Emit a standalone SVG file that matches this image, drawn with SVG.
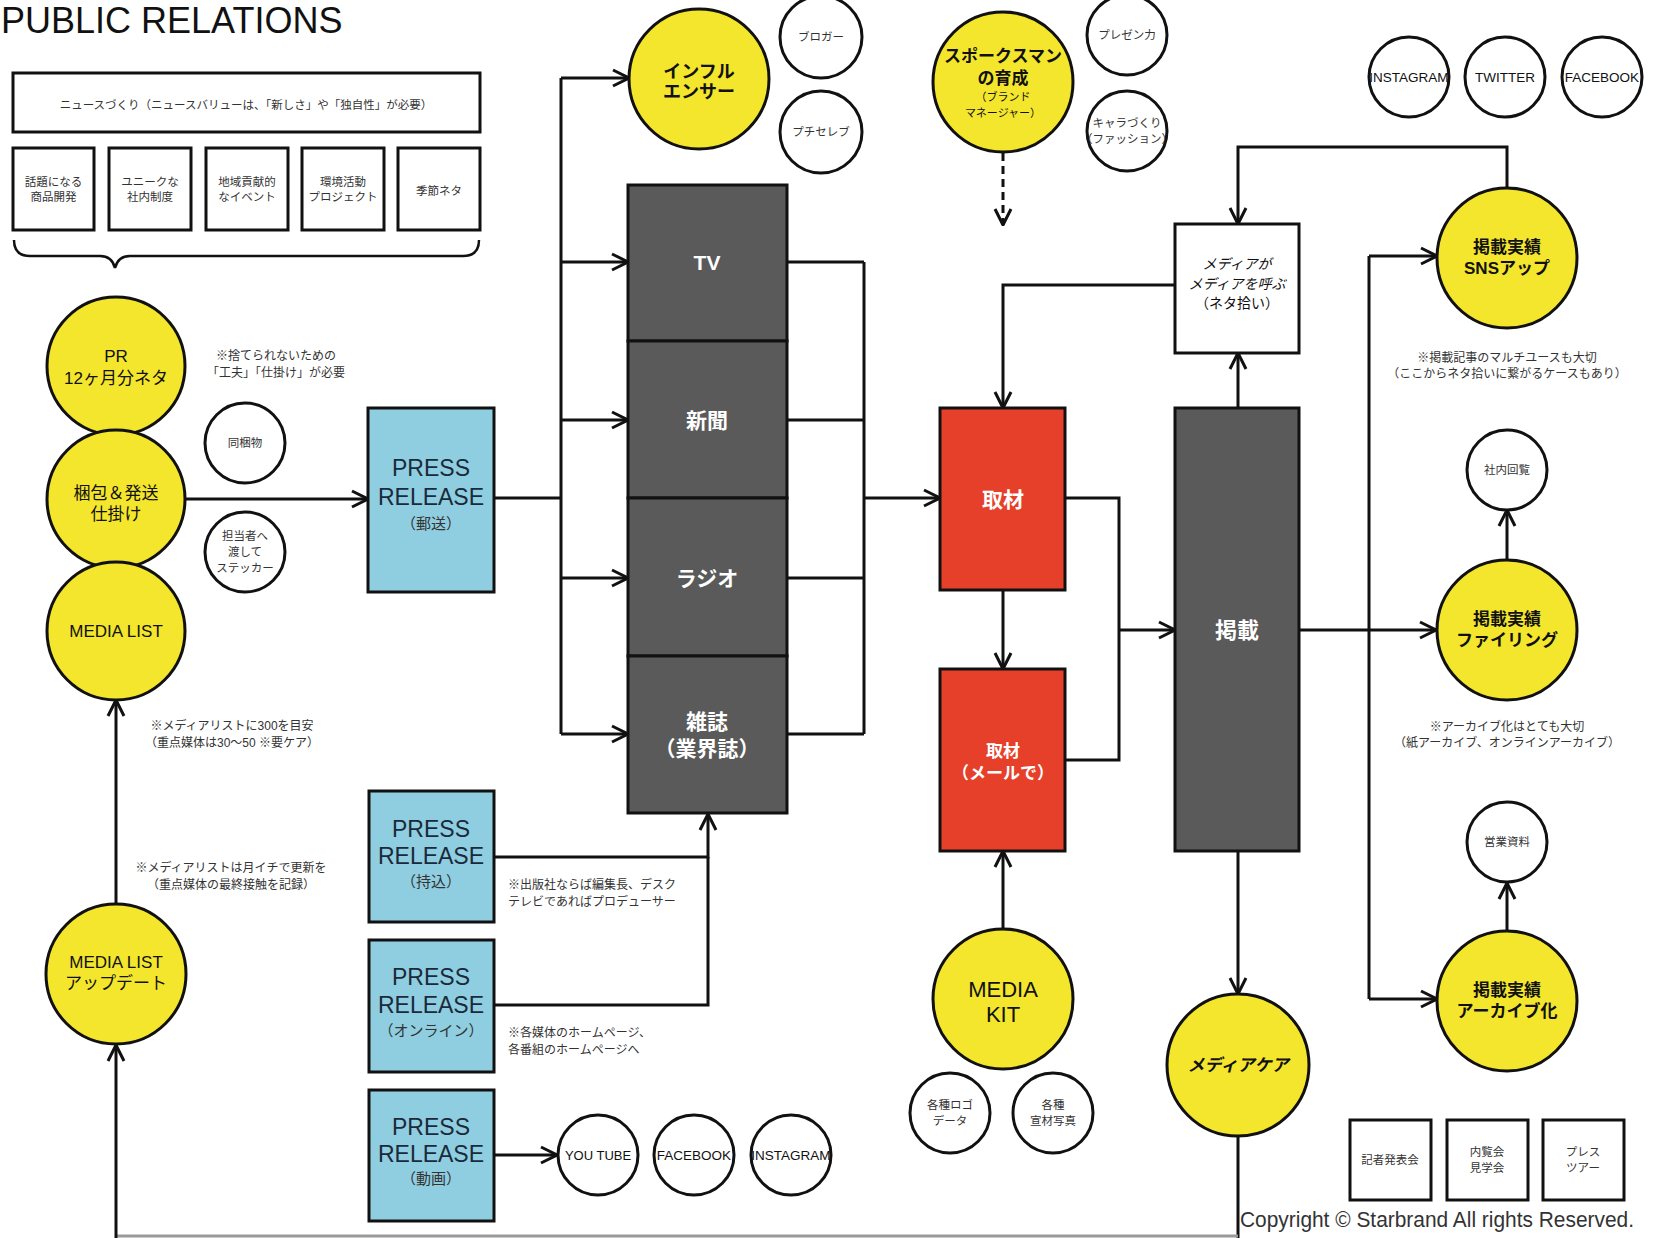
<svg xmlns="http://www.w3.org/2000/svg" width="1656" height="1238" viewBox="0 0 1656 1238">
<style>
text{font-family:'Liberation Sans','Noto Sans CJK JP',sans-serif;text-anchor:middle;fill:#111}
.box{fill:#fff;stroke:#111;stroke-width:3}
.yc{fill:#f4e62c;stroke:#111;stroke-width:3}
.wc{fill:#fff;stroke:#111;stroke-width:3}
.blue{fill:#8fcde0;stroke:#111;stroke-width:3}
.dark{fill:#5a5a5a;stroke:#111;stroke-width:3}
.red{fill:#e6402a;stroke:#111;stroke-width:3}
.sm{font-size:11.5px;fill:#333}
.note{font-size:12px;fill:#333}
.yl{font-size:17px}
.yb{font-size:17px;font-weight:bold}
.pr{font-size:23px;fill:#1a2a3a}
.prs{font-size:15px;fill:#333}
.wl{font-size:21px;font-weight:bold;fill:#fff}
.ln{fill:none;stroke:#111;stroke-width:3}
.ar{fill:none;stroke:#111;stroke-width:3;marker-end:url(#ah)}
</style>
<defs>
<marker id="ah" viewBox="0 0 20 20" refX="19" refY="10" markerWidth="20" markerHeight="20" markerUnits="userSpaceOnUse" orient="auto">
<path d="M3,2 L19,10 L3,18" fill="none" stroke="#111" stroke-width="3"/>
</marker>
</defs>
<rect width="1656" height="1238" fill="#fff"/>
<text x="1" y="33" style="font-size:36px;text-anchor:start">PUBLIC RELATIONS</text>

<g id="connectors">
<path class="ar" d="M185,499 H368"/>
<path class="ln" d="M494,498 H561 M561,78 V734"/>
<path class="ar" d="M561,78 H629"/>
<path class="ar" d="M561,262 H628"/>
<path class="ar" d="M561,420 H628"/>
<path class="ar" d="M561,578 H628"/>
<path class="ar" d="M561,734 H628"/>
<path class="ln" d="M787,262 H864 M787,420 H864 M787,578 H864 M787,734 H864 M864,262 V734"/>
<path class="ar" d="M864,498 H940"/>
<path class="ar" d="M1003,590 V669"/>
<path class="ln" d="M1065,498 H1119 V760 H1065"/>
<path class="ar" d="M1119,630 H1175"/>
<path class="ar" d="M1238,408 V353"/>
<path class="ar" d="M1175,285 H1003 V408"/>
<path class="ar" d="M1507,188 V147 H1238 V224"/>
<path class="ar" d="M1299,630 H1436"/>
<path class="ln" d="M1369,256 V999"/>
<path class="ar" d="M1369,256 H1437"/>
<path class="ar" d="M1369,999 H1437"/>
<path class="ar" d="M1507,560 V510"/>
<path class="ar" d="M1507,931 V883"/>
<path class="ar" d="M1003,929 V851"/>
<path class="ar" d="M1238,851 V994"/>
<path class="ln" d="M1238,1136 V1238"/>
<path d="M1238,1236 H116" fill="none" stroke="#999" stroke-width="3"/>
<path class="ar" d="M116,1238 V1045"/>
<path class="ar" d="M116,904 V700"/>
<path class="ar" d="M494,857 H708 V814"/>
<path class="ln" d="M494,1005 H708 V857"/>
<path class="ar" d="M494,1155 H557"/>
<path class="ar" d="M1003,153 V225" stroke-dasharray="8 5"/>
<path class="ln" d="M14,240 Q14,256 30,256 H100 Q112,256 115,268 Q118,256 130,256 H463 Q479,256 479,240" style="stroke-width:2.5"/>
</g>

<g id="news-box">
<rect class="box" x="13" y="73" width="467" height="59"/>
<text class="sm" x="246" y="109">ニュースづくり（ニュースバリューは、「新しさ」や「独自性」が必要）</text>
</g>
<g id="topic-1"><rect class="box" x="13" y="148" width="81" height="82"/><text class="sm" x="53.5" y="186">話題になる</text><text class="sm" x="53.5" y="201">商品開発</text></g>
<g id="topic-2"><rect class="box" x="109" y="148" width="82" height="82"/><text class="sm" x="150" y="186">ユニークな</text><text class="sm" x="150" y="201">社内制度</text></g>
<g id="topic-3"><rect class="box" x="206" y="148" width="82" height="82"/><text class="sm" x="247" y="186">地域貢献的</text><text class="sm" x="247" y="201">なイベント</text></g>
<g id="topic-4"><rect class="box" x="302" y="148" width="82" height="82"/><text class="sm" x="343" y="186">環境活動</text><text class="sm" x="343" y="201">プロジェクト</text></g>
<g id="topic-5"><rect class="box" x="398" y="148" width="82" height="82"/><text class="sm" x="439" y="195">季節ネタ</text></g>

<g id="pr-neta"><circle class="yc" cx="116" cy="366" r="69"/><text class="yl" x="116" y="362">PR</text><text class="yl" x="116" y="384">12ヶ月分ネタ</text></g>
<g id="konpo"><circle class="yc" cx="116" cy="499" r="69"/><text class="yl" x="116" y="499">梱包＆発送</text><text class="yl" x="116" y="520">仕掛け</text></g>
<g id="media-list"><circle class="yc" cx="116" cy="631" r="69"/><text class="yl" x="116" y="637">MEDIA LIST</text></g>
<g id="media-list-update"><circle class="yc" cx="116" cy="974" r="70"/><text class="yl" x="116" y="968">MEDIA LIST</text><text class="yl" x="116" y="989">アップデート</text></g>

<g id="notes-left">
<text class="note" x="276" y="360">※捨てられないための</text>
<text class="note" x="276" y="377">「工夫」「仕掛け」が必要</text>
<text class="note" x="232" y="730">※メディアリストに300を目安</text>
<text class="note" x="232" y="747">（重点媒体は30～50 ※要ケア）</text>
<text class="note" x="231" y="872">※メディアリストは月イチで更新を</text>
<text class="note" x="231" y="889">（重点媒体の最終接触を記録）</text>
<text class="note" x="508" y="889" style="text-anchor:start">※出版社ならば編集長、デスク</text>
<text class="note" x="508" y="906" style="text-anchor:start">テレビであればプロデューサー</text>
<text class="note" x="508" y="1037" style="text-anchor:start">※各媒体のホームページ、</text>
<text class="note" x="508" y="1054" style="text-anchor:start">各番組のホームページへ</text>
</g>

<g id="doukonbutsu"><circle class="wc" cx="245" cy="443" r="40"/><text class="sm" x="245" y="447">同梱物</text></g>
<g id="sticker"><circle class="wc" cx="245" cy="552" r="40"/><text class="sm" x="245" y="540">担当者へ</text><text class="sm" x="245" y="556">渡して</text><text class="sm" x="245" y="572">ステッカー</text></g>

<g id="pr-yuso"><rect class="blue" x="368" y="408" width="126" height="184"/><text class="pr" x="431" y="476">PRESS</text><text class="pr" x="431" y="505">RELEASE</text><text class="prs" x="431" y="529">（郵送）</text></g>
<g id="pr-mochikomi"><rect class="blue" x="369" y="791" width="125" height="131"/><text class="pr" x="431" y="837">PRESS</text><text class="pr" x="431" y="864">RELEASE</text><text class="prs" x="431" y="887">（持込）</text></g>
<g id="pr-online"><rect class="blue" x="369" y="940" width="125" height="132"/><text class="pr" x="431" y="985">PRESS</text><text class="pr" x="431" y="1013">RELEASE</text><text class="prs" x="431" y="1036">（オンライン）</text></g>
<g id="pr-douga"><rect class="blue" x="369" y="1090" width="125" height="131"/><text class="pr" x="431" y="1135">PRESS</text><text class="pr" x="431" y="1162">RELEASE</text><text class="prs" x="431" y="1184">（動画）</text></g>

<g id="youtube"><circle class="wc" cx="598" cy="1155" r="40"/><text x="598" y="1160" style="font-size:13px">YOU TUBE</text></g>
<g id="facebook-b"><circle class="wc" cx="694" cy="1155" r="40"/><text x="694" y="1160" style="font-size:13.5px">FACEBOOK</text></g>
<g id="instagram-b"><circle class="wc" cx="791" cy="1155" r="40"/><text x="791" y="1160" style="font-size:13.5px">INSTAGRAM</text></g>

<g id="influencer"><circle class="yc" cx="699" cy="79" r="70"/><text class="yb" x="699" y="78" style="font-size:18px">インフル</text><text class="yb" x="699" y="98" style="font-size:18px">エンサー</text></g>
<g id="blogger"><circle class="wc" cx="821" cy="37" r="41"/><text class="sm" x="821" y="41">ブロガー</text></g>
<g id="puchiceleb"><circle class="wc" cx="821" cy="132" r="41"/><text class="sm" x="821" y="136">プチセレブ</text></g>

<g id="tv"><rect class="dark" x="628" y="185" width="159" height="156"/><text class="wl" x="707" y="270">TV</text></g>
<g id="shinbun"><rect class="dark" x="628" y="341" width="159" height="157"/><text class="wl" x="707" y="428">新聞</text></g>
<g id="radio"><rect class="dark" x="628" y="498" width="159" height="158"/><text class="wl" x="707" y="586">ラジオ</text></g>
<g id="zasshi"><rect class="dark" x="628" y="656" width="159" height="157"/><text class="wl" x="707" y="729">雑誌</text><text class="wl" x="707" y="756">（業界誌）</text></g>

<g id="spokesman"><circle class="yc" cx="1003" cy="82" r="70"/><text class="yb" x="1003" y="62">スポークスマン</text><text class="yb" x="1003" y="84">の育成</text><text x="1003" y="101" style="font-size:11px">（ブランド</text><text x="1003" y="117" style="font-size:11px">マネージャー）</text></g>
<g id="presen"><circle class="wc" cx="1127" cy="35" r="40"/><text class="sm" x="1127" y="39">プレゼン力</text></g>
<g id="chara"><circle class="wc" cx="1127" cy="131" r="40"/><text class="sm" x="1127" y="127">キャラづくり</text><text class="sm" x="1127" y="143">（ファッション）</text></g>

<g id="instagram-t"><circle class="wc" cx="1409" cy="77" r="40"/><text x="1409" y="82" style="font-size:13.5px">INSTAGRAM</text></g>
<g id="twitter"><circle class="wc" cx="1505" cy="77" r="40"/><text x="1505" y="82" style="font-size:13.5px">TWITTER</text></g>
<g id="facebook-t"><circle class="wc" cx="1602" cy="77" r="40"/><text x="1602" y="82" style="font-size:13.5px">FACEBOOK</text></g>

<g id="shuzai"><rect class="red" x="940" y="408" width="125" height="182"/><text class="wl" x="1003" y="507">取材</text></g>
<g id="shuzai-mail"><rect class="red" x="940" y="669" width="125" height="182"/><text class="wl" x="1003" y="757" style="font-size:17px">取材</text><text class="wl" x="1003" y="779" style="font-size:17px">（メールで）</text></g>
<g id="media-kit"><circle class="yc" cx="1003" cy="999" r="70"/><text x="1003" y="997" style="font-size:22px">MEDIA</text><text x="1003" y="1022" style="font-size:22px">KIT</text></g>
<g id="logo-data"><circle class="wc" cx="950" cy="1113" r="40"/><text class="sm" x="950" y="1109">各種ロゴ</text><text class="sm" x="950" y="1125">データ</text></g>
<g id="photos"><circle class="wc" cx="1053" cy="1113" r="40"/><text class="sm" x="1053" y="1109">各種</text><text class="sm" x="1053" y="1125">宣材写真</text></g>

<g id="media-yobu"><rect class="box" x="1175" y="224" width="124" height="129"/><text x="1237" y="269" style="font-size:14px;font-style:italic">メディアが</text><text x="1237" y="289" style="font-size:14px;font-style:italic">メディアを呼ぶ</text><text x="1237" y="308" style="font-size:14px">（ネタ拾い）</text></g>
<g id="keisai"><rect class="dark" x="1175" y="408" width="124" height="443"/><text class="wl" x="1237" y="638" style="font-size:22px">掲載</text></g>
<g id="media-care"><circle class="yc" cx="1238" cy="1065" r="71"/><text class="yb" x="1238" y="1071" style="font-style:italic">メディアケア</text></g>

<g id="sns-up"><circle class="yc" cx="1507" cy="258" r="70"/><text class="yb" x="1507" y="253">掲載実績</text><text class="yb" x="1507" y="274">SNSアップ</text></g>
<g id="filing"><circle class="yc" cx="1507" cy="630" r="70"/><text class="yb" x="1507" y="625">掲載実績</text><text class="yb" x="1507" y="646">ファイリング</text></g>
<g id="archive"><circle class="yc" cx="1507" cy="1001" r="70"/><text class="yb" x="1507" y="996">掲載実績</text><text class="yb" x="1507" y="1017">アーカイブ化</text></g>
<g id="shanai"><circle class="wc" cx="1507" cy="470" r="40"/><text class="sm" x="1507" y="474">社内回覧</text></g>
<g id="eigyo"><circle class="wc" cx="1507" cy="842" r="40"/><text class="sm" x="1507" y="846">営業資料</text></g>
<g id="notes-right">
<text class="note" x="1507" y="362">※掲載記事のマルチユースも大切</text>
<text class="note" x="1507" y="378">（ここからネタ拾いに繋がるケースもあり）</text>
<text class="note" x="1507" y="731">※アーカイブ化はとても大切</text>
<text class="note" x="1507" y="747">（紙アーカイブ、オンラインアーカイブ）</text>
</g>

<g id="kisha"><rect class="box" x="1350" y="1120" width="81" height="80"/><text class="sm" x="1390" y="1164">記者発表会</text></g>
<g id="nairan"><rect class="box" x="1447" y="1120" width="81" height="80"/><text class="sm" x="1487" y="1156">内覧会</text><text class="sm" x="1487" y="1172">見学会</text></g>
<g id="presstour"><rect class="box" x="1543" y="1120" width="81" height="80"/><text class="sm" x="1583" y="1156">プレス</text><text class="sm" x="1583" y="1172">ツアー</text></g>

<text x="1240" y="1227" textLength="394" lengthAdjust="spacingAndGlyphs" style="font-size:22px;text-anchor:start;fill:#333">Copyright  © Starbrand All rights Reserved.</text>
</svg>
